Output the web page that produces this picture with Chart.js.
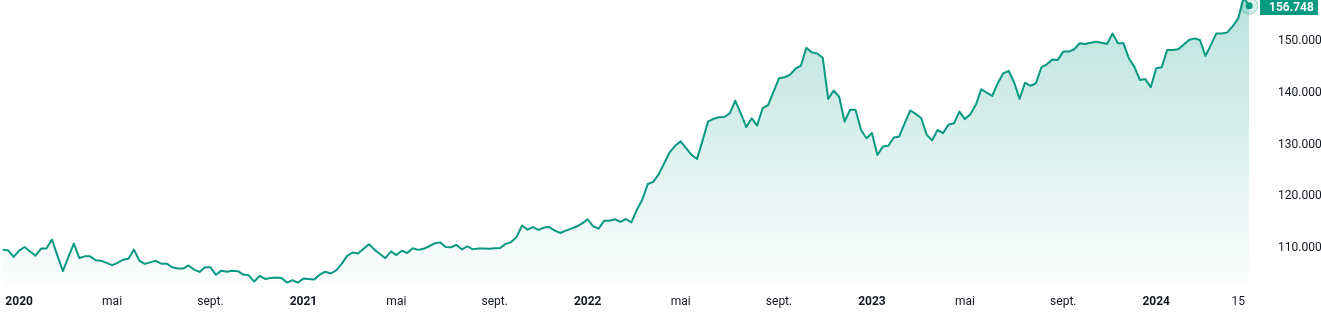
<!DOCTYPE html>
<html>
<head>
<meta charset="utf-8">
<script src="https://cdn.jsdelivr.net/npm/chart.js@4.4.1/dist/chart.umd.min.js"></script>
<style>
    html, body { margin: 0; padding: 0; background: #ffffff; }
    #wrap { width: 1321px; height: 316px; position: relative; }
</style>
</head>
<body>
<div id="wrap"><canvas id="chart"></canvas></div>
<script>
// weekly closes, first bar = week of 16 Dec 2019
const START_WEEK = '2019-12-16';

const closes = [
    109.75, 109.6, 108.35, 109.55, 110.25, 109.4, 108.6, 109.95, 109.95, 111.7,
    108.6, 105.6, 108.3, 110.9, 108.15, 108.45, 108.45, 107.7, 107.6, 107.2,
    106.75, 107.2, 107.8, 108.0, 109.75, 107.6, 107.0, 107.3, 107.6, 107.05,
    107.05, 106.35, 106.1, 106.1, 106.7, 105.9, 105.45, 106.35, 106.35, 104.9,
    105.7, 105.5, 105.7, 105.6, 104.95, 104.8, 103.6, 104.7, 104.1, 104.3,
    104.4, 104.3, 103.4, 103.85, 103.4, 104.2, 104.1, 104.0, 104.95, 105.5,
    105.15, 105.75, 107.0, 108.55, 109.2, 109.0, 109.9, 110.8, 109.75, 108.9,
    108.1, 109.4, 108.7, 109.55, 109.1, 110.0, 109.7, 109.9, 110.4, 110.95,
    111.15, 110.25, 110.2, 110.65, 109.8, 110.4, 109.8, 109.95, 109.95, 109.9,
    110.0, 110.05, 110.85, 111.2, 112.2, 114.4, 113.6, 114.1, 113.55, 114.0,
    114.1, 113.4, 112.95, 113.4, 113.8, 114.2, 114.8, 115.6, 114.25, 113.8,
    115.3, 115.3, 115.6, 115.1, 115.65, 115.0, 117.45, 119.4, 122.4, 122.8,
    124.3, 126.4, 128.5, 129.75, 130.6, 129.3, 128.0, 127.2, 130.7, 134.4,
    134.95, 135.25, 135.3, 136.0, 138.45, 136.0, 133.35, 135.05, 133.65, 137.0,
    137.6, 140.2, 142.75, 142.95, 143.4, 144.6, 145.2, 148.65, 147.75, 147.55,
    146.7, 138.8, 140.4, 139.2, 134.4, 136.7, 136.7, 132.8, 131.2, 132.2,
    128.0, 129.6, 129.75, 131.35, 131.55, 134.1, 136.55, 135.9, 135.1, 131.9,
    130.8, 132.8, 132.2, 133.8, 134.1, 136.35, 134.9, 135.85, 137.65, 140.65,
    140.0, 139.35, 141.8, 143.7, 144.2, 142.0, 138.8, 141.9, 141.3, 141.8,
    144.9, 145.45, 146.4, 146.3, 147.9, 147.9, 148.35, 149.5, 149.35, 149.6,
    149.8, 149.6, 149.35, 151.4, 149.5, 149.5, 146.6, 145.0, 142.45, 142.6,
    141.05, 144.7, 144.9, 148.2, 148.2, 148.35, 149.2, 150.15, 150.45, 150.15,
    147.05, 149.2, 151.4, 151.4, 151.6, 152.8, 154.3, 158.3, 156.748,
];

const tickDates = [
    '2020-01-01', '2020-05-01', '2020-09-01',
    '2021-01-01', '2021-05-01', '2021-09-01',
    '2022-01-01', '2022-05-01', '2022-09-01',
    '2023-01-01', '2023-05-01', '2023-09-01',
    '2024-01-01', '2024-04-15',
];
const tickLabels = [
    '2020', 'mai', 'sept.',
    '2021', 'mai', 'sept.',
    '2022', 'mai', 'sept.',
    '2023', 'mai', 'sept.',
    '2024', '15',
];
const yTicks = [110, 120, 130, 140, 150];

const GREEN = '#089981';
const TEXT = '#131722';
const FONT = "Roboto, 'Liberation Sans', sans-serif";

Chart.defaults.font.family = FONT;
Chart.defaults.font.size = 12;
Chart.defaults.color = TEXT;

// first weekly bar that falls on/after each label date
const WEEK_MS = 7 * 86400000;
const tickIndex = tickDates.map(d => Math.ceil((Date.parse(d) - Date.parse(START_WEEK)) / WEEK_MS));
const isYear = s => /^\d{4}$/.test(s);

// halo on the last point + price tag on the scale
const lastPricePlugin = {
    id: 'lastPrice',
    afterDatasetsDraw(chart) {
        const meta = chart.getDatasetMeta(0);
        const pt = meta.data[meta.data.length - 1];
        const ctx = chart.ctx;
        ctx.save();
        ctx.beginPath();
        ctx.arc(pt.x, pt.y, 8.5, 0, Math.PI * 2);
        ctx.fillStyle = 'rgba(8, 153, 129, 0.16)';
        ctx.fill();
        ctx.lineWidth = 1;
        ctx.strokeStyle = 'rgba(8, 153, 129, 0.35)';
        ctx.stroke();
        ctx.beginPath();
        ctx.arc(pt.x, pt.y, 3.5, 0, Math.PI * 2);
        ctx.fillStyle = GREEN;
        ctx.fill();
        ctx.restore();
    },
    afterDraw(chart) {
        const y = chart.scales.y;
        const ctx = chart.ctx;
        const last = closes[closes.length - 1];
        const yc = Math.max(y.getPixelForValue(last), 7.5);
        ctx.save();
        ctx.fillStyle = GREEN;
        ctx.fillRect(y.left + 1, yc - 7.5, 58, 15);
        ctx.fillStyle = '#ffffff';
        ctx.font = 'bold 12px ' + FONT;
        ctx.textBaseline = 'middle';
        ctx.textAlign = 'left';
        ctx.fillText(last.toFixed(3), y.left + 10, yc + 0.5);
        ctx.restore();
    },
};

new Chart(document.getElementById('chart'), {
    type: 'line',
    data: {
        datasets: [{
            data: closes.map((v, i) => ({ x: i, y: v })),
            borderColor: GREEN,
            borderWidth: 2,
            borderJoinStyle: 'round',
            pointRadius: 0,
            tension: 0,
            fill: 'start',
            backgroundColor: function(context) {
                const { ctx, chartArea } = context.chart;
                if (!chartArea) return 'rgba(8, 153, 129, 0.1)';
                const g = ctx.createLinearGradient(0, chartArea.top, 0, chartArea.bottom);
                g.addColorStop(0, 'rgba(8, 153, 129, 0.28)');
                g.addColorStop(1, 'rgba(8, 153, 129, 0.01)');
                return g;
            },
        }],
    },
    options: {
        responsive: true,
        maintainAspectRatio: false,
        animation: false,
        events: [],
        layout: { padding: 0 },
        plugins: {
            legend: { display: false },
            tooltip: { enabled: false },
        },
        scales: {
            x: {
                type: 'linear',
                min: -0.5,
                max: closes.length + 0.8,
                grid: { display: false },
                border: { display: false },
                afterBuildTicks: scale => {
                    scale.ticks = tickIndex.map(v => ({ value: v }));
                },
                afterFit: scale => {
                    scale.height = 29;
                    scale.paddingLeft = 0;
                    scale.paddingRight = 0;
                },
                ticks: {
                    autoSkip: false,
                    maxRotation: 0,
                    padding: 0,
                    callback: (v, i) => tickLabels[i],
                    font: ctx => ({
                        size: 12,
                        weight: isYear(tickLabels[ctx.index] || '') ? 'bold' : 'normal',
                    }),
                },
            },
            y: {
                position: 'right',
                min: 102.55,
                max: 157.84,
                grid: { display: false },
                border: { display: false },
                afterBuildTicks: scale => {
                    scale.ticks = yTicks.map(v => ({ value: v }));
                },
                afterFit: scale => {
                    scale.width = 62;
                    scale.paddingTop = 0;
                    scale.paddingBottom = 0;
                },
                ticks: {
                    padding: 11,
                    callback: v => v.toFixed(3),
                },
            },
        },
    },
    plugins: [lastPricePlugin],
});
</script>
</body>
</html>
